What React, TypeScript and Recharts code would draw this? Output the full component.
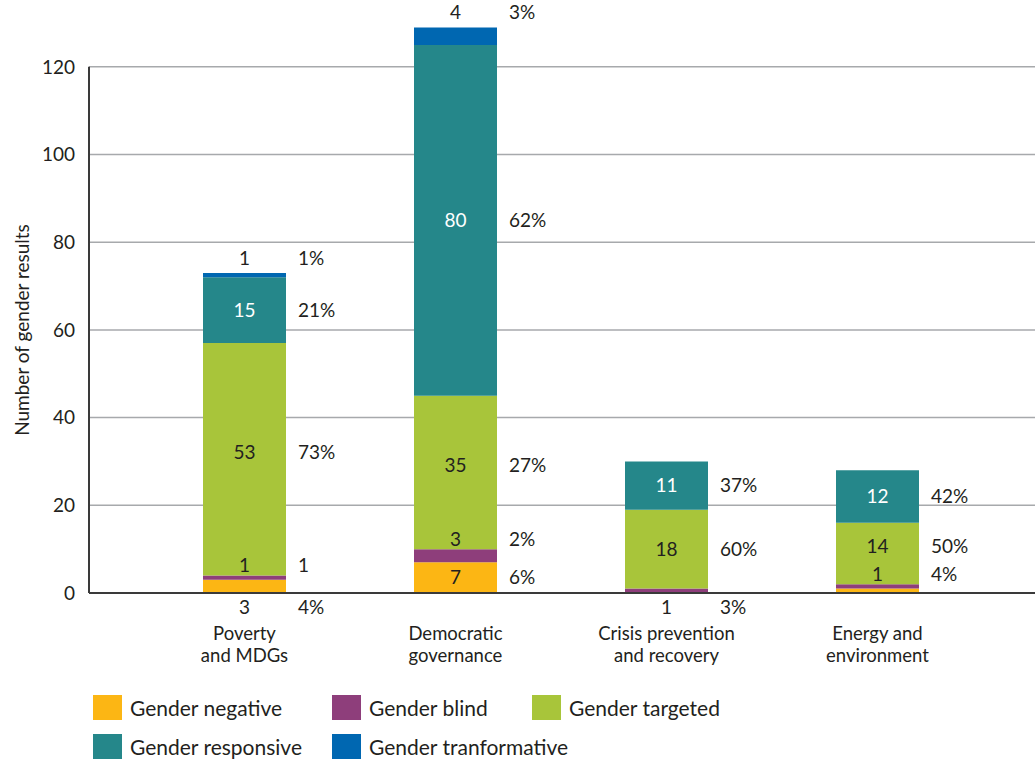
import { BarChart, Bar, XAxis, YAxis, CartesianGrid, LabelList, ReferenceLine } from "recharts";

const categories = ["Poverty\nand MDGs", "Democratic\ngovernance", "Crisis prevention\nand recovery", "Energy and\nenvironment"];

const genderNegative = [3, 7, 0, 1];
const genderBlind = [1, 3, 1, 1];
const genderTargeted = [53, 35, 18, 14];
const genderResponsive = [15, 80, 11, 12];
const genderTransformative = [1, 4, 0, 0];

const negativePct = ["4%", "6%", "", "4%"];
const blindPct = ["1", "2%", "3%", "4%"];
const targetedPct = ["73%", "27%", "60%", "50%"];
const responsivePct = ["21%", "62%", "37%", "42%"];
const transformativePct = ["1%", "3%", "", ""];

const yTicks = [0, 20, 40, 60, 80, 100, 120];

const FONT = "Lato, 'Open Sans', sans-serif";
const TEXT = "#231f20";
const AXIS = "#3a3a3a";

const series = [
  { key: "negative", name: "Gender negative", color: "#fcb614", values: genderNegative, pct: negativePct, inside: TEXT },
  { key: "blind", name: "Gender blind", color: "#8e3e7b", values: genderBlind, pct: blindPct, inside: TEXT },
  { key: "targeted", name: "Gender targeted", color: "#a8c53a", values: genderTargeted, pct: targetedPct, inside: TEXT },
  { key: "responsive", name: "Gender responsive", color: "#25878a", values: genderResponsive, pct: responsivePct, inside: "#ffffff" },
  { key: "transformative", name: "Gender tranformative", color: "#0067b1", values: genderTransformative, pct: transformativePct, inside: TEXT },
];

const data = categories.map((category, i) => {
  const row: any = { category };
  series.forEach((s) => (row[s.key] = s.values[i]));
  return row;
});

// a segment shorter than this (px) gets its label outside
const SMALL = 20;
const PX_PER_UNIT = 570 / 130;

function labelGoesAbove(si: number, index: number) {
  if (si < 0) return false;
  const v = series[si].values[index];
  if (!v || v * PX_PER_UNIT >= SMALL) return false;
  let base = 0;
  for (let k = 0; k < si; k++) base += series[k].values[index];
  return base > 0;
}

function makeLabel(si: number) {
  return (props: any) => {
    const vb = props.viewBox || {};
    const x = props.x ?? vb.x;
    const y = props.y ?? vb.y;
    const width = props.width ?? vb.width;
    const height = props.height ?? vb.height;
    const index = props.index;
    const s = series[si];
    const value = s.values[index];
    if (!value) return null;
    let base = 0;
    for (let k = 0; k < si; k++) base += series[k].values[index];
    const isTop = si === series.length - 1;
    let cy: number;
    let color = s.inside;
    if (height >= SMALL) {
      cy = y + height / 2 - (labelGoesAbove(si - 1, index) ? 7 : 0);
    } else if (base === 0) {
      cy = y + height + 14;
      color = TEXT;
    } else {
      cy = y - (isTop ? 15 : 10);
      color = TEXT;
    }
    return (
      <g>
        <text x={x + width / 2} y={cy} dy="0.35em" textAnchor="middle" fill={color} fontSize={19} fontFamily={FONT}>
          {value}
        </text>
        <text x={x + width + 12} y={cy} dy="0.35em" textAnchor="start" fill={TEXT} fontSize={19} fontFamily={FONT}>
          {s.pct[index]}
        </text>
      </g>
    );
  };
}

function CategoryTick({ x, y, payload }: any) {
  const lines = String(payload.value).split("\n");
  return (
    <text x={x} y={y} textAnchor="middle" fill={TEXT} fontSize={18.5} fontFamily={FONT}>
      {lines.map((line, i) => (
        <tspan key={i} x={x} dy={i === 0 ? 47 : 22}>
          {line}
        </tspan>
      ))}
    </text>
  );
}

function YTitle({ viewBox }: any) {
  const cx = (viewBox?.x ?? 0) + 22;
  const cy = (viewBox?.y ?? 0) + (viewBox?.height ?? 0) / 2 + 22;
  return (
    <text x={cx} y={cy} transform={`rotate(-90 ${cx} ${cy})`} textAnchor="middle" dy="0.35em" fill={TEXT} fontSize={19} fontFamily={FONT}>
      Number of gender results
    </text>
  );
}

const legendCols = [93, 332, 532];

export default function App() {
  return (
    <div style={{ position: "absolute", left: 0, top: 0, width: 1035, height: 761, background: "#fff" }}>
      <BarChart width={1035} height={761} data={data} margin={{ top: 23, right: 0, left: 0, bottom: 98 }}>
        <CartesianGrid horizontal vertical={false} horizontalValues={yTicks} stroke="#a7a9ac" strokeWidth={1.5} />
        <XAxis
          dataKey="category"
          padding={{ left: 50, right: 52 }}
          height={70}
          tickLine={false}
          tickSize={0}
          tickMargin={0}
          axisLine={{ stroke: AXIS, strokeWidth: 2 }}
          tick={<CategoryTick />}
          interval={0}
        />
        <XAxis xAxisId="frame" type="number" domain={[0, 1]} hide />
        <YAxis
          width={89}
          domain={[0, 130]}
          ticks={yTicks}
          tickLine={false}
          tickSize={6}
          tickMargin={8}
          axisLine={false}
          tick={{ fill: TEXT, fontSize: 19, fontFamily: FONT }}
          label={{ content: <YTitle /> }}
        />
        <ReferenceLine
          xAxisId="frame"
          segment={[{ x: 0, y: 0 }, { x: 0, y: 120 }]}
          stroke={AXIS}
          strokeWidth={2}
          ifOverflow="visible"
        />
        {series.map((s, si) => (
          <Bar key={s.key} dataKey={s.key} name={s.name} stackId="a" fill={s.color} barSize={83} isAnimationActive={false}>
            <LabelList dataKey={s.key} content={makeLabel(si)} />
          </Bar>
        ))}
      </BarChart>
      {series.map((s, i) => {
        const col = i % 3;
        const row = Math.floor(i / 3);
        return (
          <div
            key={s.key}
            style={{
              position: "absolute",
              left: legendCols[col],
              top: 695 + row * 39,
              height: 25,
              display: "flex",
              alignItems: "center",
              fontFamily: FONT,
              fontSize: 21,
              color: TEXT,
              whiteSpace: "nowrap",
            }}
          >
            <span style={{ display: "inline-block", width: 29, height: 25, background: s.color, marginRight: 8 }} />
            {s.name}
          </div>
        );
      })}
    </div>
  );
}
